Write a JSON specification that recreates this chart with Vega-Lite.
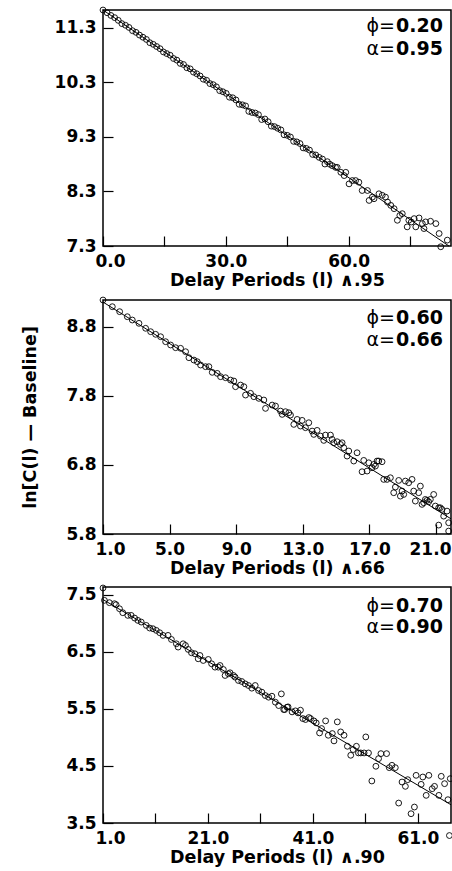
{
"$schema": "https://vega.github.io/schema/vega-lite/v6.json",
"background": "white",
"padding": {"left": 21, "top": 4, "right": 0, "bottom": 0},
"spacing": 4,
"config": {
  "font": "DejaVu Sans",
  "view": {"stroke": "black", "strokeWidth": 1.5},
  "axis": {"domain": false, "grid": false, "labelFont": "DejaVu Sans", "labelFontWeight": "bold", "labelFontSize": 17, "labelColor": "black", "titleFont": "DejaVu Sans", "titleFontWeight": "bold", "titleFontSize": 17.5, "titleColor": "black", "tickColor": "black", "tickWidth": 1.2, "labelOverlap": false}
},
"datasets": {
  "p1": [
    {"x":0,"y":11.63},{"x":1.00,"y":11.58},{"x":1.93,"y":11.53},{"x":2.84,"y":11.49},{"x":3.73,"y":11.44},{"x":4.61,"y":11.38},{"x":5.49,"y":11.35},{"x":6.35,"y":11.31},{"x":7.21,"y":11.25},{"x":8.06,"y":11.22},{"x":8.91,"y":11.17},{"x":9.76,"y":11.13},{"x":10.60,"y":11.09},{"x":11.44,"y":11.03},{"x":12.27,"y":11.00},{"x":13.10,"y":10.96},{"x":13.93,"y":10.92},{"x":14.76,"y":10.86},{"x":15.58,"y":10.83},{"x":16.40,"y":10.80},{"x":17.22,"y":10.74},{"x":18.04,"y":10.71},{"x":18.86,"y":10.65},{"x":19.67,"y":10.63},{"x":20.48,"y":10.57},{"x":21.29,"y":10.55},{"x":22.10,"y":10.49},{"x":22.90,"y":10.46},{"x":23.71,"y":10.42},{"x":24.51,"y":10.36},{"x":25.31,"y":10.34},{"x":26.11,"y":10.28},{"x":26.91,"y":10.26},{"x":27.70,"y":10.22},{"x":28.50,"y":10.15},{"x":29.29,"y":10.13},{"x":30.09,"y":10.10},{"x":30.88,"y":10.03},{"x":31.68,"y":10.02},{"x":32.47,"y":9.98},{"x":33.26,"y":9.90},{"x":34.05,"y":9.89},{"x":34.83,"y":9.87},{"x":35.62,"y":9.77},{"x":36.40,"y":9.75},{"x":37.19,"y":9.74},{"x":37.97,"y":9.71},{"x":38.76,"y":9.62},{"x":39.55,"y":9.63},{"x":40.33,"y":9.58},{"x":41.12,"y":9.50},{"x":41.90,"y":9.49},{"x":42.67,"y":9.46},{"x":43.45,"y":9.43},{"x":44.23,"y":9.34},{"x":45.01,"y":9.33},{"x":45.78,"y":9.30},{"x":46.56,"y":9.22},{"x":47.34,"y":9.21},{"x":48.11,"y":9.18},{"x":48.89,"y":9.10},{"x":49.66,"y":9.09},{"x":50.43,"y":9.06},{"x":51.20,"y":8.98},{"x":51.97,"y":8.97},
    {"x":52.8,"y":8.926},{"x":53.6,"y":8.895},{"x":54.2,"y":8.804},{"x":54.8,"y":8.847},{"x":55.4,"y":8.80},{"x":56.0,"y":8.774},{"x":56.8,"y":8.743},{"x":57.2,"y":8.743},{"x":58.1,"y":8.652},{"x":58.9,"y":8.592},{"x":59.3,"y":8.652},{"x":60.1,"y":8.440},{"x":60.9,"y":8.501},{"x":61.7,"y":8.501},{"x":62.5,"y":8.470},{"x":63.3,"y":8.318},{"x":64.6,"y":8.318},{"x":65.0,"y":8.136},{"x":65.8,"y":8.197},{"x":66.2,"y":8.167},{"x":67.4,"y":8.258},{"x":68.2,"y":8.23},{"x":69.0,"y":8.197},{"x":69.5,"y":8.106},{"x":70.3,"y":8.045},{"x":71.1,"y":7.985},{"x":71.9,"y":7.772},{"x":72.5,"y":7.86},{"x":73.1,"y":7.893},{"x":74.3,"y":7.651},{"x":74.7,"y":7.772},{"x":75.3,"y":7.74},{"x":76.0,"y":7.802},{"x":76.4,"y":7.651},{"x":77.2,"y":7.815},{"x":78.0,"y":7.711},{"x":78.4,"y":7.620},{"x":78.8,"y":7.742},{"x":80.0,"y":7.754},{"x":81.3,"y":7.711},{"x":82.1,"y":7.529},{"x":82.5,"y":7.286},{"x":84.1,"y":7.408}
  ],
  "l1": [{"x":0,"y":11.63},{"x":84.5,"y":7.30}],
  "a1": [{"param":"phi","sym":"ϕ=","value":"0.20"},{"param":"alpha","sym":"α=","value":"0.95"}],
  "p2": [
    {"x":1.0,"y":9.19},{"x":1.56,"y":9.093},{"x":2.00,"y":9.021},{"x":2.46,"y":8.948},{"x":2.76,"y":8.900},{"x":3.16,"y":8.852},{"x":3.56,"y":8.780},{"x":3.86,"y":8.731},{"x":4.16,"y":8.693},{"x":4.46,"y":8.658},{"x":4.76,"y":8.586},{"x":5.06,"y":8.538},{"x":5.36,"y":8.499},{"x":5.66,"y":8.490},{"x":5.96,"y":8.441},{"x":6.16,"y":8.354},{"x":6.46,"y":8.320},{"x":6.66,"y":8.296},{"x":6.86,"y":8.248},{"x":7.16,"y":8.224},{"x":7.36,"y":8.224},{"x":7.56,"y":8.142},{"x":7.86,"y":8.127},{"x":8.06,"y":8.079},{"x":8.36,"y":8.064},{"x":8.66,"y":8.030},{"x":8.86,"y":8.016},{"x":8.96,"y":7.934},{"x":9.26,"y":7.958},{"x":9.46,"y":7.934},{"x":9.56,"y":7.813},{"x":9.86,"y":7.838},{"x":10.06,"y":7.789},{"x":10.36,"y":7.765},{"x":10.66,"y":7.741},{"x":10.76,"y":7.620},
    {"x":11.16,"y":7.668},{"x":11.36,"y":7.654},{"x":11.66,"y":7.581},{"x":11.76,"y":7.533},{"x":11.96,"y":7.572},{"x":12.16,"y":7.557},{"x":12.26,"y":7.523},{"x":12.46,"y":7.388},{"x":12.66,"y":7.460},{"x":12.86,"y":7.364},{"x":12.96,"y":7.446},{"x":13.16,"y":7.340},{"x":13.36,"y":7.412},{"x":13.56,"y":7.291},{"x":13.66,"y":7.243},{"x":13.86,"y":7.301},{"x":14.06,"y":7.219},{"x":14.26,"y":7.156},{"x":14.36,"y":7.233},{"x":14.66,"y":7.233},{"x":14.76,"y":7.171},{"x":14.86,"y":7.122},{"x":15.06,"y":7.137},{"x":15.26,"y":7.098},{"x":15.36,"y":7.122},{"x":15.46,"y":7.050},{"x":15.66,"y":6.929},{"x":15.76,"y":7.002},{"x":16.06,"y":6.857},{"x":16.26,"y":6.977},{"x":16.56,"y":6.702},{"x":16.66,"y":6.866},{"x":16.86,"y":6.712},{"x":16.96,"y":6.832},{"x":17.16,"y":6.760},{"x":17.26,"y":6.808},{"x":17.36,"y":6.784},{"x":17.46,"y":6.857},{"x":17.56,"y":6.857},{"x":17.76,"y":6.847},{"x":17.86,"y":6.591},{"x":18.06,"y":6.591},{"x":18.26,"y":6.615},{"x":18.46,"y":6.398},{"x":18.56,"y":6.480},{"x":18.76,"y":6.576},{"x":18.86,"y":6.349},{"x":18.96,"y":6.422},{"x":19.06,"y":6.373},{"x":19.16,"y":6.567},{"x":19.36,"y":6.543},{"x":19.56,"y":6.591},{"x":19.66,"y":6.422},{"x":19.76,"y":6.277},{"x":19.96,"y":6.398},{"x":20.06,"y":6.494},{"x":20.16,"y":6.229},{"x":20.26,"y":6.253},{"x":20.36,"y":6.301},{"x":20.46,"y":6.287},{"x":20.56,"y":6.267},{"x":20.66,"y":6.301},{"x":20.86,"y":6.373},{"x":20.96,"y":6.205},{"x":21.16,"y":6.180},{"x":21.26,"y":6.180},{"x":21.36,"y":6.156},{"x":21.46,"y":6.059},{"x":21.66,"y":6.132},{"x":21.16,"y":5.929},{"x":21.76,"y":5.963},{"x":21.76,"y":5.842}
  ],
  "l2": [{"x":1,"y":9.16},{"x":21.9,"y":6.02}],
  "a2": [{"param":"phi","sym":"ϕ=","value":"0.60"},{"param":"alpha","sym":"α=","value":"0.66"}],
  "p3": [
    {"x":1,"y":7.623},{"x":1.27,"y":7.406},{"x":2.22,"y":7.365},{"x":3.18,"y":7.347},{"x":3.49,"y":7.330},{"x":4.14,"y":7.259},{"x":4.77,"y":7.189},{"x":5.73,"y":7.142},{"x":6.36,"y":7.142},{"x":7.02,"y":7.095},{"x":7.65,"y":7.054},{"x":8.28,"y":7.025},{"x":9.24,"y":6.966},{"x":9.89,"y":6.920},{"x":10.52,"y":6.908},{"x":11.15,"y":6.879},{"x":11.80,"y":6.838},{"x":12.44,"y":6.791},{"x":13.39,"y":6.791},{"x":14.03,"y":6.720},{"x":14.98,"y":6.644},{"x":15.31,"y":6.586},{"x":16.27,"y":6.644},{"x":16.71,"y":6.615},{"x":17.23,"y":6.545},{"x":17.86,"y":6.486},{"x":18.51,"y":6.469},{"x":19.14,"y":6.381},{"x":19.47,"y":6.439},{"x":20.10,"y":6.351},{"x":21.06,"y":6.369},{"x":21.69,"y":6.293},{"x":22.34,"y":6.234},{"x":22.97,"y":6.234},{"x":23.30,"y":6.263},{"x":23.93,"y":6.193},{"x":24.26,"y":6.088},{"x":24.89,"y":6.117},{"x":25.21,"y":6.135},{"x":25.85,"y":6.088},{"x":26.17,"y":6.058},{"x":26.80,"y":6.000},{"x":27.44,"y":5.982},{"x":28.09,"y":5.941},{"x":28.72,"y":5.912},{"x":29.35,"y":5.865},{"x":30.00,"y":5.912},{"x":30.64,"y":5.824},{"x":31.27,"y":5.795},{"x":31.92,"y":5.736},{"x":32.55,"y":5.707},{"x":33.18,"y":5.724},{"x":33.84,"y":5.619},{"x":34.47,"y":5.560},{"x":34.98,"y":5.765},{"x":35.43,"y":5.490},{"x":36.06,"y":5.531},
    {"x":35.62,"y":5.490},{"x":36.26,"y":5.537},{"x":37.02,"y":5.449},{"x":37.66,"y":5.467},{"x":38.17,"y":5.432},{"x":38.62,"y":5.479},{"x":39.07,"y":5.332},{"x":39.58,"y":5.315},{"x":40.22,"y":5.350},{"x":40.54,"y":5.332},{"x":41.18,"y":5.291},{"x":41.62,"y":5.256},{"x":42.26,"y":5.080},{"x":42.64,"y":5.157},{"x":43.41,"y":5.291},{"x":43.92,"y":5.039},{"x":44.69,"y":5.069},{"x":45.01,"y":4.940},{"x":45.64,"y":5.274},{"x":46.28,"y":5.098},{"x":46.92,"y":5.039},{"x":47.56,"y":4.846},{"x":48.20,"y":4.688},{"x":48.65,"y":4.788},{"x":49.28,"y":4.846},{"x":49.67,"y":4.729},{"x":50.11,"y":4.729},{"x":50.75,"y":4.729},{"x":51.07,"y":5.010},{"x":51.58,"y":4.729},{"x":52.22,"y":4.237},{"x":52.99,"y":4.495},{"x":53.50,"y":4.629},{"x":53.95,"y":4.717},{"x":55.03,"y":4.717},{"x":55.54,"y":4.471},{"x":56.05,"y":4.512},{"x":56.69,"y":4.471},{"x":57.33,"y":3.850},{"x":57.97,"y":4.219},{"x":58.61,"y":4.143},{"x":59.05,"y":4.260},{"x":59.69,"y":3.663},{"x":60.33,"y":3.780},{"x":60.65,"y":4.336},{"x":61.61,"y":4.178},{"x":61.93,"y":4.307},{"x":62.57,"y":3.985},{"x":63.08,"y":4.336},{"x":63.72,"y":4.102},{"x":64.16,"y":4.143},{"x":64.99,"y":3.985},{"x":65.44,"y":4.319},{"x":66.08,"y":4.190},{"x":66.72,"y":3.909},{"x":67.16,"y":4.278},{"x":67.0,"y":3.28}
  ],
  "l3": [{"x":1,"y":7.42},{"x":67.3,"y":3.82}],
  "a3": [{"param":"phi","sym":"ϕ=","value":"0.70"},{"param":"alpha","sym":"α=","value":"0.90"}]
},
"vconcat": [
  {
    "width": 348, "height": 236,
    "layer": [
      {"data": {"name": "p1"},
       "mark": {"type": "point", "shape": "circle", "filled": false, "stroke": "black", "strokeWidth": 0.9, "size": 34, "opacity": 1},
       "encoding": {
         "x": {"field": "x", "type": "quantitative", "scale": {"domain": [0, 85], "nice": false, "zero": false},
               "axis": {"title": "Delay Periods (l) ∧.95", "values": [0,7.5,15,22.5,30,37.5,45,52.5,60,67.5,75,82.5],
                        "labelExpr": "round(datum.value/7.5) % 4 == 0 ? format(datum.value, '.1f') : ''",
                        "tickSize": {"condition": {"test": "round(datum.value/7.5) % 2 == 0", "value": -10}, "value": -5},
                        "labelPadding": 17, "labelFlush": true, "labelFlushOffset": 8, "titlePadding": 2}},
         "y": {"field": "y", "type": "quantitative", "scale": {"domain": [7.3, 11.63], "nice": false, "zero": false},
               "axis": {"title": null, "values": [7.3,7.55,7.8,8.05,8.3,8.55,8.8,9.05,9.3,9.55,9.8,10.05,10.3,10.55,10.8,11.05,11.3,11.55],
                        "labelExpr": "round((datum.value-7.3)*4) % 4 == 0 ? format(datum.value, '.1f') : ''",
                        "tickSize": {"condition": {"test": "round((datum.value-7.3)*4) % 2 == 0", "value": -10}, "value": -5},
                        "labelPadding": 17}}
       }},
      {"data": {"name": "l1"}, "mark": {"type": "line", "stroke": "black", "strokeWidth": 1},
       "encoding": {"x": {"field": "x", "type": "quantitative"}, "y": {"field": "y", "type": "quantitative"}}},
      {"data": {"name": "a1"}, "transform": [{"filter": "datum.param == 'phi'"}],
       "mark": {"type": "text", "align": "right", "baseline": "alphabetic", "fontSize": 19, "font": "DejaVu Sans", "dx": -1, "color": "black"},
       "encoding": {"x": {"datum": 71.57, "type": "quantitative"}, "y": {"datum": 11.226, "type": "quantitative"}, "text": {"field": "sym"}}},
      {"data": {"name": "a1"}, "transform": [{"filter": "datum.param == 'phi'"}],
       "mark": {"type": "text", "align": "left", "baseline": "alphabetic", "fontSize": 19, "font": "DejaVu Sans", "fontWeight": "bold", "color": "black"},
       "encoding": {"x": {"datum": 71.57, "type": "quantitative"}, "y": {"datum": 11.226, "type": "quantitative"}, "text": {"field": "value"}}},
      {"data": {"name": "a1"}, "transform": [{"filter": "datum.param == 'alpha'"}],
       "mark": {"type": "text", "align": "right", "baseline": "alphabetic", "fontSize": 19, "font": "DejaVu Sans", "dx": -1, "color": "black"},
       "encoding": {"x": {"datum": 71.57, "type": "quantitative"}, "y": {"datum": 10.804, "type": "quantitative"}, "text": {"field": "sym"}}},
      {"data": {"name": "a1"}, "transform": [{"filter": "datum.param == 'alpha'"}],
       "mark": {"type": "text", "align": "left", "baseline": "alphabetic", "fontSize": 19, "font": "DejaVu Sans", "fontWeight": "bold", "color": "black"},
       "encoding": {"x": {"datum": 71.57, "type": "quantitative"}, "y": {"datum": 10.804, "type": "quantitative"}, "text": {"field": "value"}}}
    ]
  },
  {
    "width": 348, "height": 234,
    "layer": [
      {"data": {"name": "p2"},
       "mark": {"type": "point", "shape": "circle", "filled": false, "stroke": "black", "strokeWidth": 0.9, "size": 34, "opacity": 1},
       "encoding": {
         "x": {"field": "x", "type": "quantitative", "scale": {"domain": [1, 21.9], "nice": false, "zero": false},
               "axis": {"title": "Delay Periods (l) ∧.66", "values": [1,2,3,4,5,6,7,8,9,10,11,12,13,14,15,16,17,18,19,20,21],
                        "labelExpr": "round(datum.value-1) % 4 == 0 ? format(datum.value, '.1f') : ''",
                        "tickSize": {"condition": {"test": "round(datum.value-1) % 2 == 0", "value": -10}, "value": -5},
                        "labelOffset": {"condition": {"test": "datum.value == 21", "value": -6}, "value": 0},
                        "labelPadding": 17, "labelFlush": true, "labelFlushOffset": 8, "titlePadding": 2}},
         "y": {"field": "y", "type": "quantitative", "scale": {"domain": [5.8, 9.19], "nice": false, "zero": false},
               "axis": {"title": "ln[C(l) — Baseline]", "titleFontSize": 17.5, "titlePadding": 26, "values": [5.8,6.05,6.3,6.55,6.8,7.05,7.3,7.55,7.8,8.05,8.3,8.55,8.8,9.05],
                        "labelExpr": "round((datum.value-5.8)*4) % 4 == 0 ? format(datum.value, '.1f') : ''",
                        "tickSize": {"condition": {"test": "round((datum.value-5.8)*4) % 2 == 0", "value": -10}, "value": -5},
                        "labelPadding": 17}}
       }},
      {"data": {"name": "l2"}, "mark": {"type": "line", "stroke": "black", "strokeWidth": 1},
       "encoding": {"x": {"field": "x", "type": "quantitative"}, "y": {"field": "y", "type": "quantitative"}}},
      {"data": {"name": "a2"}, "transform": [{"filter": "datum.param == 'phi'"}],
       "mark": {"type": "text", "align": "right", "baseline": "alphabetic", "fontSize": 19, "font": "DejaVu Sans", "dx": -1, "color": "black"},
       "encoding": {"x": {"datum": 18.6, "type": "quantitative"}, "y": {"datum": 8.842, "type": "quantitative"}, "text": {"field": "sym"}}},
      {"data": {"name": "a2"}, "transform": [{"filter": "datum.param == 'phi'"}],
       "mark": {"type": "text", "align": "left", "baseline": "alphabetic", "fontSize": 19, "font": "DejaVu Sans", "fontWeight": "bold", "color": "black"},
       "encoding": {"x": {"datum": 18.6, "type": "quantitative"}, "y": {"datum": 8.842, "type": "quantitative"}, "text": {"field": "value"}}},
      {"data": {"name": "a2"}, "transform": [{"filter": "datum.param == 'alpha'"}],
       "mark": {"type": "text", "align": "right", "baseline": "alphabetic", "fontSize": 19, "font": "DejaVu Sans", "dx": -1, "color": "black"},
       "encoding": {"x": {"datum": 18.6, "type": "quantitative"}, "y": {"datum": 8.524, "type": "quantitative"}, "text": {"field": "sym"}}},
      {"data": {"name": "a2"}, "transform": [{"filter": "datum.param == 'alpha'"}],
       "mark": {"type": "text", "align": "left", "baseline": "alphabetic", "fontSize": 19, "font": "DejaVu Sans", "fontWeight": "bold", "color": "black"},
       "encoding": {"x": {"datum": 18.6, "type": "quantitative"}, "y": {"datum": 8.524, "type": "quantitative"}, "text": {"field": "value"}}}
    ]
  },
  {
    "width": 348, "height": 236,
    "layer": [
      {"data": {"name": "p3"},
       "mark": {"type": "point", "shape": "circle", "filled": false, "stroke": "black", "strokeWidth": 0.9, "size": 34, "opacity": 1},
       "encoding": {
         "x": {"field": "x", "type": "quantitative", "scale": {"domain": [1, 67.3], "nice": false, "zero": false},
               "axis": {"title": "Delay Periods (l) ∧.90", "values": [1,6,11,16,21,26,31,36,41,46,51,56,61,66],
                        "labelExpr": "round((datum.value-1)/5) % 4 == 0 ? format(datum.value, '.1f') : ''",
                        "tickSize": {"condition": {"test": "round((datum.value-1)/5) % 2 == 0", "value": -10}, "value": -5},
                        "labelPadding": 17, "labelFlush": true, "labelFlushOffset": 8, "titlePadding": 2}},
         "y": {"field": "y", "type": "quantitative", "scale": {"domain": [3.5, 7.64], "nice": false, "zero": false},
               "axis": {"title": null, "values": [3.5,3.75,4.0,4.25,4.5,4.75,5.0,5.25,5.5,5.75,6.0,6.25,6.5,6.75,7.0,7.25,7.5],
                        "labelExpr": "round((datum.value-3.5)*4) % 4 == 0 ? format(datum.value, '.1f') : ''",
                        "tickSize": {"condition": {"test": "round((datum.value-3.5)*4) % 2 == 0", "value": -10}, "value": -5},
                        "labelPadding": 17}}
       }},
      {"data": {"name": "l3"}, "mark": {"type": "line", "stroke": "black", "strokeWidth": 1},
       "encoding": {"x": {"field": "x", "type": "quantitative"}, "y": {"field": "y", "type": "quantitative"}}},
      {"data": {"name": "a3"}, "transform": [{"filter": "datum.param == 'phi'"}],
       "mark": {"type": "text", "align": "right", "baseline": "alphabetic", "fontSize": 19, "font": "DejaVu Sans", "dx": -1, "color": "black"},
       "encoding": {"x": {"datum": 56.82, "type": "quantitative"}, "y": {"datum": 7.207, "type": "quantitative"}, "text": {"field": "sym"}}},
      {"data": {"name": "a3"}, "transform": [{"filter": "datum.param == 'phi'"}],
       "mark": {"type": "text", "align": "left", "baseline": "alphabetic", "fontSize": 19, "font": "DejaVu Sans", "fontWeight": "bold", "color": "black"},
       "encoding": {"x": {"datum": 56.82, "type": "quantitative"}, "y": {"datum": 7.207, "type": "quantitative"}, "text": {"field": "value"}}},
      {"data": {"name": "a3"}, "transform": [{"filter": "datum.param == 'alpha'"}],
       "mark": {"type": "text", "align": "right", "baseline": "alphabetic", "fontSize": 19, "font": "DejaVu Sans", "dx": -1, "color": "black"},
       "encoding": {"x": {"datum": 56.82, "type": "quantitative"}, "y": {"datum": 6.828, "type": "quantitative"}, "text": {"field": "sym"}}},
      {"data": {"name": "a3"}, "transform": [{"filter": "datum.param == 'alpha'"}],
       "mark": {"type": "text", "align": "left", "baseline": "alphabetic", "fontSize": 19, "font": "DejaVu Sans", "fontWeight": "bold", "color": "black"},
       "encoding": {"x": {"datum": 56.82, "type": "quantitative"}, "y": {"datum": 6.828, "type": "quantitative"}, "text": {"field": "value"}}}
    ]
  }
]
}
